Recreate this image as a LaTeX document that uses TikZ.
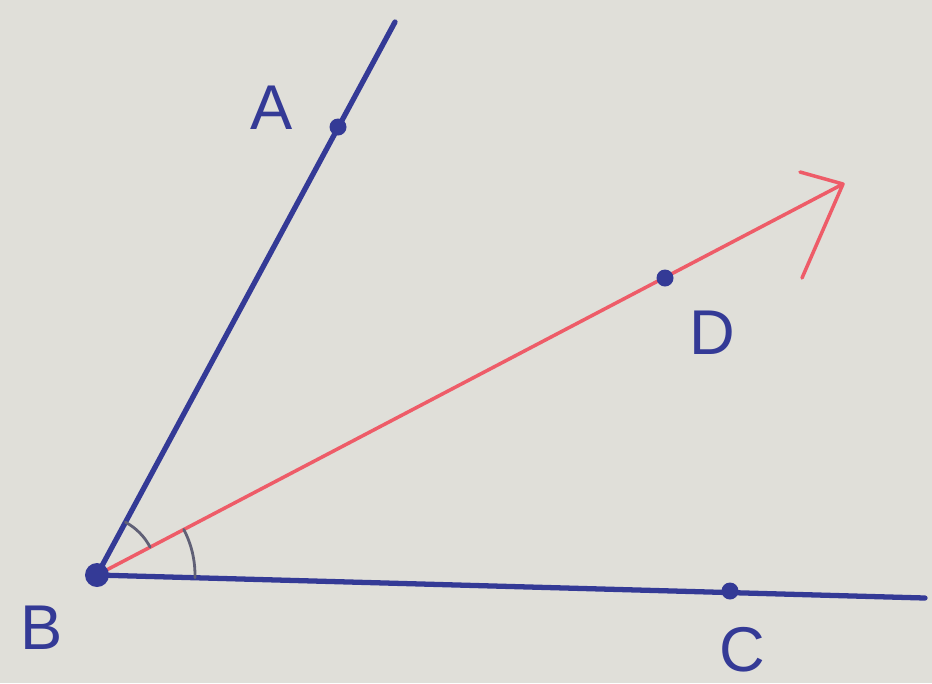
\documentclass[tikz,border=0pt]{standalone}
\usepackage{fontspec}
\setsansfont{Liberation Sans}
\definecolor{ink}{RGB}{52,58,150}
\definecolor{redink}{RGB}{238,92,104}
\definecolor{paper}{RGB}{224,223,217}
\definecolor{pencil}{RGB}{96,96,118}
\begin{document}
\begin{tikzpicture}[x=1cm, y=-1cm, font=\sffamily\fontsize{18}{22}\selectfont, line join=round, line cap=round]
            \fill[paper] (0,0) rectangle (9.32,6.83);
            \useasboundingbox (0,0) rectangle (9.32,6.83);
            \path
            (0.97,5.75) coordinate (B)
            (3.95,0.22) coordinate (Aend)
            (3.38,1.27) coordinate (A)
            (9.25,5.98) coordinate (Cend)
            (7.30,5.91) coordinate (C)
            (6.65,2.78) coordinate (D)
            (8.43,1.84) coordinate (T)
            (8.00,1.72) coordinate (T1)
            (8.02,2.78) coordinate (T2)
            ;
            \draw[ink, line width=1.5pt] (B)--(Aend) (B)--(Cend);
            \draw[redink, line width=1pt] (B)--(T) (T1)--(T)--(T2);
            % angle marks (y axis points down, so angles change sign)
            \draw[pencil, line width=0.8pt] (B) ++(-61.7:0.6) arc (-61.7:-27.7:0.6);
            \draw[pencil, line width=0.8pt] (B) ++(-27.7:0.98) arc (-27.7:1.6:0.98);
            \fill[ink] (B) circle(0.12);
            \foreach \i/\p in {A/{(2.72,1.08)}, B/{(0.42,6.28)}, C/{(7.42,6.50)}, D/{(7.12,3.33)}}{
                \fill[ink] (\i) circle(0.085);
                \node[ink] (lbl\i) at \p {\i};
            }
        \end{tikzpicture}
\end{document}
